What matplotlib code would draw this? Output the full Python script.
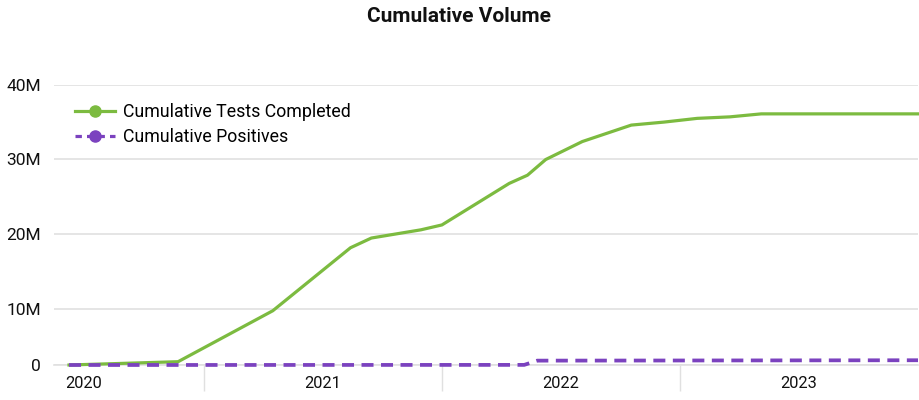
import numpy as np
import pandas as pd
import matplotlib
matplotlib.use('Agg')
import matplotlib.pyplot as plt
from matplotlib.lines import Line2D

plt.rcParams['font.family'] = ['Roboto', 'DejaVu Sans']

# ── Data ────────────────────────────────────────────────────
test_dates = ['2020-06-09', '2020-11-23', '2021-04-17', '2021-08-14',
              '2021-09-15', '2021-11-30', '2022-01-01', '2022-04-14',
              '2022-05-12', '2022-06-09', '2022-08-04', '2022-10-18',
              '2022-12-07', '2023-01-27', '2023-03-18', '2023-05-05',
              '2023-12-31']
tests_completed = [0.0, 0.59, 9.7, 18.2, 19.5, 20.6, 21.25, 26.8,
                   27.9, 30.0, 32.4, 34.6, 35.0, 35.5, 35.7, 36.1, 36.1]  # millions

pos_dates = ['2020-06-09', '2022-05-07', '2022-05-27', '2023-12-31']
positives = [0.0, 0.02, 0.78, 0.85]  # millions

y_ticks = [0, 10, 20, 30, 40]
y_labels = ['0', '10M', '20M', '30M', '40M']
years = [2020, 2021, 2022, 2023]

GREEN = '#7cbb40'
PURPLE = '#7b42bf'
GRID = '#e0e0e0'

# The value axis squeezes the 0-10M band compared with the rest
LOW = 56 / 74.9

def fwd(v):
    v = np.asarray(v, dtype=float)
    return np.where(v <= 10, v * LOW / 10, LOW + (v - 10) / 10)

def inv(u):
    u = np.asarray(u, dtype=float)
    return np.where(u <= LOW, u / LOW * 10, 10 + (u - LOW) * 10)

# ── Plot ─────────────────────────────────────────────────────
fig = plt.figure(figsize=(9.2, 4), dpi=100)
ax = fig.add_axes([54 / 920, 35 / 400, 864 / 920, 280.3 / 400])

td = pd.to_datetime(test_dates)
pdt = pd.to_datetime(pos_dates)
ax.plot(td, tests_completed, color=GREEN, linewidth=2.3, zorder=3,
        solid_joinstyle='round', clip_on=False)
ax.plot(pdt, positives, color=PURPLE, linewidth=2.7, zorder=4,
        linestyle=(0, (3.2, 2.0)), clip_on=False)

ax.set_yscale('function', functions=(fwd, inv))
ax.set_ylim(0, 40)
ax.set_yticks(y_ticks)
ax.set_yticklabels(y_labels)
ax.yaxis.grid(True, color=GRID, linewidth=1.2)
ax.tick_params(axis='y', length=0, pad=9.5, labelsize=12.5, labelcolor='#111111')

ax.set_xlim(pd.Timestamp('2020-05-17'), pd.Timestamp('2023-12-31'))
ax.set_xticks([pd.Timestamp(f'{y}-01-01') for y in years[1:]])
ax.set_xticklabels([])
ax.set_xticks([pd.Timestamp(f'{y}-07-02') for y in years], minor=True)
ax.set_xticklabels([str(y) for y in years], minor=True)
ax.tick_params(axis='x', which='major', length=19, width=1, color=GRID, direction='out')
ax.tick_params(axis='x', which='minor', length=0, pad=8, labelsize=11.8,
               labelcolor='#111111')

for s in ['top', 'right', 'left']:
    ax.spines[s].set_visible(False)
ax.spines['bottom'].set_color(GRID)
ax.spines['bottom'].set_linewidth(1.2)
ax.set_axisbelow(True)

handles = [
    Line2D([], [], color=GREEN, linewidth=2.3, marker='o', markersize=8),
    Line2D([], [], color=PURPLE, linewidth=2.3, linestyle=(0, (2.0, 1.6)),
           marker='o', markersize=8),
]
ax.legend(handles, ['Cumulative Tests Completed', 'Cumulative Positives'],
          loc='upper left', bbox_to_anchor=(0.024, 0.935), frameon=False,
          fontsize=12.8, handlelength=2.25, handletextpad=0.45,
          labelspacing=0.4, borderpad=0, borderaxespad=0)

fig.text(0.499, 1 - 17 / 400, 'Cumulative Volume', ha='center', va='center',
         fontsize=15, fontweight='bold', color='#111111')

plt.savefig('out.png', dpi=100)
